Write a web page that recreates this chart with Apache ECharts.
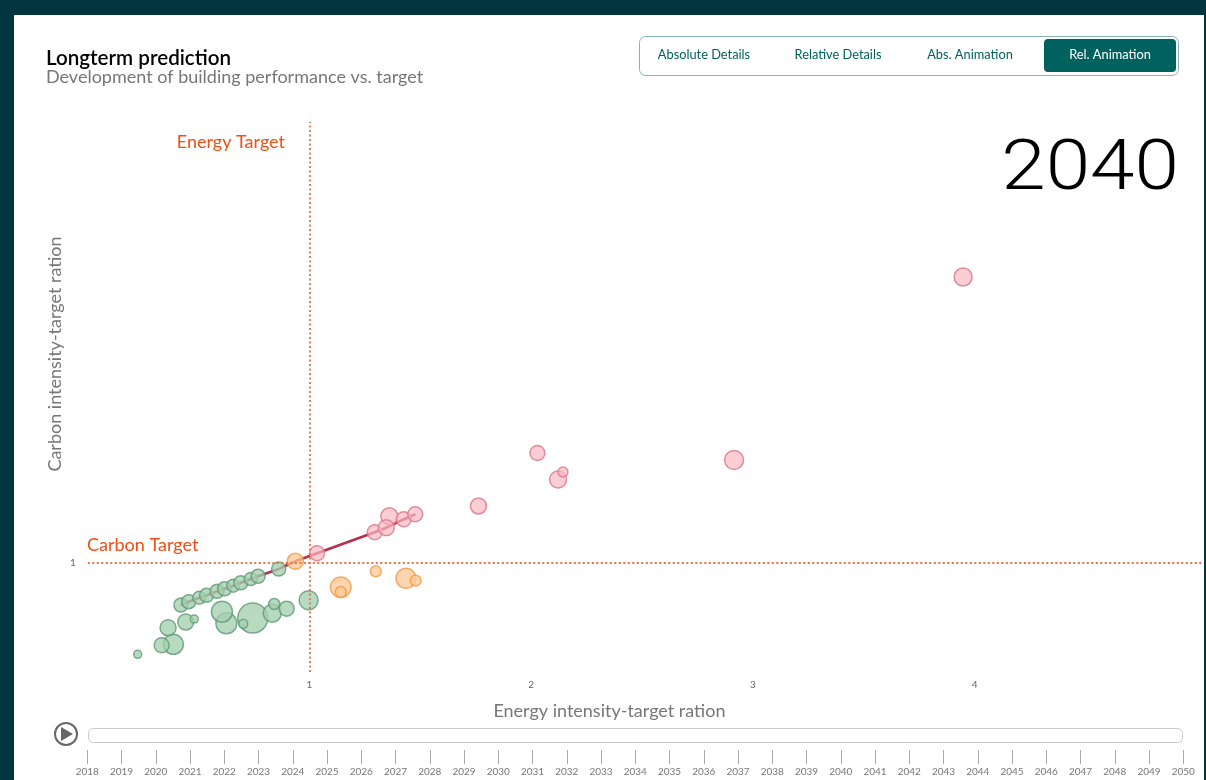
<!DOCTYPE html>
<html><head><meta charset="utf-8">
<style>
html,body{margin:0;padding:0;width:1206px;height:780px;overflow:hidden;background:#00343f}
#panel{position:absolute;left:14px;top:15px;width:1190px;height:765px;background:#fff}
#chart{position:absolute;left:0;top:0;width:1206px;height:780px}
</style>
<script src="https://cdn.jsdelivr.net/npm/echarts@6/dist/echarts.min.js"></script>
</head><body><div id="panel"></div><div id="chart"></div>
<script>
// [energy ratio, carbon ratio, floor area]
const trailBuildings = [
[0.420,0.615,49],[0.455,0.645,49],[0.503,0.682,42],[0.536,0.704,49],[0.583,0.740,49],[0.617,0.764,49],
[0.656,0.792,42],[0.690,0.819,49],[0.735,0.853,42],[0.768,0.878,49],[0.861,0.945,49],[0.936,1.016,64],
[1.034,1.089,56],[1.294,1.282,56],[1.346,1.324,64],[1.425,1.401,56],[1.477,1.447,56]
];
const otherBuildings = [
[0.225,0.162,16],[0.333,0.245,56],[0.386,0.254,100],[0.362,0.406,64],[0.442,0.459,64],[0.480,0.486,16],
[0.625,0.447,110],[0.605,0.553,110],[0.701,0.443,20],[0.744,0.495,225],[0.832,0.539,81],[0.841,0.624,30],
[0.897,0.581,56],[0.996,0.658,90],
[1.141,0.777,106],[1.141,0.734,30],[1.299,0.924,30],[1.435,0.860,100],[1.479,0.838,30],
[1.360,1.428,72],[1.762,1.523,64],[2.028,2.009,56],[2.121,1.766,72],[2.143,1.835,25],[2.915,1.945,90],[3.948,3.624,81]
];
const years = [];
for (let y = 2018; y <= 2050; y++) years.push(y);
const energyTicks = [1,2,3,4];
const carbonTicks = [1];
const buttons = ['Absolute Details','Relative Details','Abs. Animation','Rel. Animation'];
const buttonCenters = [704,838,970,1110];
const currentYear = '2040';

const FONT = 'Lato';
const ordered = otherBuildings.slice().sort((a,b)=>b[2]-a[2]).concat(trailBuildings);
const status = d => (d[0]<1 && d[1]<1) ? 'ok' : (d[0]>1 && d[1]>1) ? 'bad' : 'mid';
const bubble = (name, key, fill, stroke) => ({
  type:'scatter', name, data:ordered.filter(d=>status(d)===key), xAxisIndex:0, yAxisIndex:0, z:3,
  symbolSize:d=>2*Math.sqrt(d[2]),
  itemStyle:{color:fill,borderColor:stroke,borderWidth:1.5}, silent:true, clip:false
});

const chart = echarts.init(document.getElementById('chart'),null,{renderer:'canvas'});
chart.setOption({
  animation:false,
  textStyle:{fontFamily:FONT},
  title:{text:'Longterm prediction',subtext:'Development of building performance vs. target',left:46,top:47,itemGap:-2,padding:0,
    textStyle:{fontFamily:FONT,fontSize:20.6,fontWeight:600,color:'#000',lineHeight:22},
    subtextStyle:{fontFamily:FONT,fontSize:18,color:'#777',lineHeight:20}},
  grid:[
    {left:87.8,top:122,width:1115.2,height:550,outerBoundsMode:'none'},
    {left:87.3,top:750,width:1096,height:14,outerBoundsMode:'none'}
  ],
  xAxis:[
    {type:'value',gridIndex:0,min:0,max:5.03,interval:1,
      name:'Energy intensity-target ration',nameLocation:'middle',nameGap:30,nameMoveOverlap:false,
      nameTextStyle:{fontSize:18,color:'#777',padding:[0,72,0,0]},
      axisLine:{show:false},axisTick:{show:false},splitLine:{show:false},
      axisLabel:{fontSize:10,color:'#666',margin:8,formatter:v=>energyTicks.includes(v)?String(v):''}},
    {type:'category',gridIndex:1,data:years,boundaryGap:false,position:'bottom',
      axisLine:{show:false},
      axisTick:{show:true,inside:true,length:14,alignWithLabel:true,interval:0,lineStyle:{color:'#aaa',width:1}},
      axisLabel:{interval:0,fontSize:10,color:'#777',margin:3,hideOverlap:false},splitLine:{show:false}}
  ],
  yAxis:[
    {type:'value',gridIndex:0,min:0,max:5.046,interval:1,
      name:'Carbon intensity-target ration',nameLocation:'middle',nameGap:24,nameMoveOverlap:false,
      nameTextStyle:{fontSize:18,color:'#777',padding:[0,0,0,86]},
      axisLine:{show:false},axisTick:{show:false},splitLine:{show:false},
      axisLabel:{fontSize:10,color:'#666',margin:12,formatter:v=>carbonTicks.includes(v)?String(v):''}},
    {type:'value',gridIndex:1,show:false,min:0,max:1}
  ],
  series:[
    {type:'line',name:'Trail',data:trailBuildings.map(d=>[d[0],d[1]]),xAxisIndex:0,yAxisIndex:0,z:2,
      showSymbol:false,symbol:'none',silent:true,clip:false,lineStyle:{color:'#b5304a',width:2.6},
      markLine:{silent:true,symbol:'none',label:{show:false},
        lineStyle:{color:'#ea6f45',type:[2,2.5],width:1.8},
        data:[{xAxis:1},{yAxis:1}]}},
    bubble('Compliant','ok','rgba(163,207,174,0.96)','#5f9a74'),
    bubble('One target missed','mid','rgba(253,200,150,0.94)','#f39a45'),
    bubble('Both targets missed','bad','rgba(251,184,193,0.88)','#d9748a')
  ],
  graphic:{elements:[
    {type:'rect',shape:{x:639.5,y:36.5,width:539,height:39,r:6},style:{fill:'#fff',stroke:'#84b5b5',lineWidth:1},silent:true},
    {type:'rect',shape:{x:1044,y:39,width:132,height:33,r:4},style:{fill:'#00625f'},silent:true},
    ...buttons.map((t,i)=>({type:'text',style:{text:t,x:buttonCenters[i],y:55,align:'center',verticalAlign:'middle',
      font:'12.8px '+FONT,fill:i===3?'#fff':'#00625f'},silent:true})),
    {type:'text',x:1179,y:171,scaleX:1.145,scaleY:1,style:{text:currentYear,x:0,y:0,align:'right',verticalAlign:'middle',font:'300 70px Roboto',fill:'#000'},silent:true},
    {type:'text',style:{text:'Energy Target',x:285,y:142,align:'right',verticalAlign:'middle',font:'18px '+FONT,fill:'#f04e14'},silent:true},
    {type:'text',style:{text:'Carbon Target',x:87,y:545,align:'left',verticalAlign:'middle',font:'18px '+FONT,fill:'#f04e14'},silent:true},
    {type:'rect',shape:{x:88.5,y:728.5,width:1094,height:14,r:5},style:{fill:'#fff',stroke:'#c8c8c8',lineWidth:1},silent:true},
    {type:'circle',shape:{cx:66,cy:734,r:11},style:{fill:'#fff',stroke:'#666',lineWidth:2},silent:true},
    {type:'polygon',shape:{points:[[61,727],[61,741],[73,734]]},style:{fill:'#666'},silent:true}
  ]}
});
</script></body></html>
